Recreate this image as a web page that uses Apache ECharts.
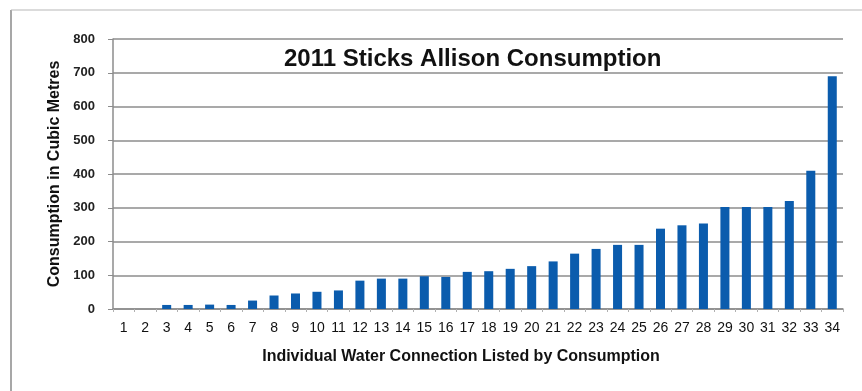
<!DOCTYPE html>
<html>
<head>
<meta charset="utf-8">
<script src="https://cdn.jsdelivr.net/npm/echarts@6/dist/echarts.min.js"></script>
<style>
  html, body { margin: 0; padding: 0; background: #fff; }
  #chart { width: 862px; height: 391px; }
</style>
</head>
<body>
<div id="chart"></div>
<script>
// connection numbers 1..34, sorted by consumption
const connections = ['1', '2', '3', '4', '5', '6', '7', '8', '9', '10', '11', '12', '13', '14', '15', '16', '17',
  '18', '19', '20', '21', '22', '23', '24', '25', '26', '27', '28', '29', '30', '31', '32', '33', '34']
const consumption = [0, 0, 12, 12, 13, 12, 25, 40, 46, 51, 55, 84, 90, 90, 97, 95, 110,
  112, 119, 127, 141, 164, 178, 190, 190, 238, 248, 253, 302, 302, 302, 320, 410, 690]

const chart = echarts.init(document.getElementById('chart'))
const font = 'Liberation Sans, Arial, sans-serif'
const gridColor = '#8c8c8c'

chart.setOption({
  animation: false,
  title: {
    text: '2011 Sticks Allison Consumption',
    left: 279,
    top: 42,
    textStyle: { fontFamily: font, fontSize: 24, fontWeight: 'bold', color: '#111' }
  },
  grid: { left: 113, right: 19, top: 39, bottom: 82 },
  xAxis: {
    type: 'category',
    data: connections,
    name: 'Individual Water Connection Listed by Consumption',
    nameLocation: 'middle',
    nameGap: 40,
    nameTextStyle: { fontFamily: font, fontSize: 16, fontWeight: 'bold', color: '#111', padding: [0, 0, 0, -34] },
    axisLine: { lineStyle: { color: gridColor, width: 1.5 } },
    axisTick: { show: true, length: 3, lineStyle: { color: '#b0b0b0' } },
    axisLabel: { fontFamily: font, fontSize: 14, color: '#111', margin: 12, interval: 0 }
  },
  yAxis: {
    type: 'value',
    min: 0,
    max: 800,
    interval: 100,
    name: 'Consumption in Cubic Metres',
    nameLocation: 'middle',
    nameGap: 49,
    nameTextStyle: { fontFamily: font, fontSize: 16, fontWeight: 'bold', color: '#111' },
    axisLine: { show: true, lineStyle: { color: gridColor, width: 1.5 } },
    axisTick: { show: true, length: 5, lineStyle: { color: gridColor } },
    axisLabel: { fontFamily: font, fontSize: 13, fontWeight: 'bold', color: '#222', margin: 18 },
    splitLine: { lineStyle: { color: gridColor, width: 1.5 } }
  },
  series: [{
    type: 'bar',
    data: consumption,
    barWidth: '42%',
    itemStyle: { color: '#0b5cad' }
  }],
  graphic: [
    { type: 'line', shape: { x1: 11, y1: 10, x2: 11, y2: 391 }, style: { stroke: '#8a8a8a', lineWidth: 1.5 } },
    { type: 'line', shape: { x1: 11, y1: 10, x2: 862, y2: 10 }, style: { stroke: '#b8b8b8', lineWidth: 1.2 } }
  ]
})
</script>
</body>
</html>
